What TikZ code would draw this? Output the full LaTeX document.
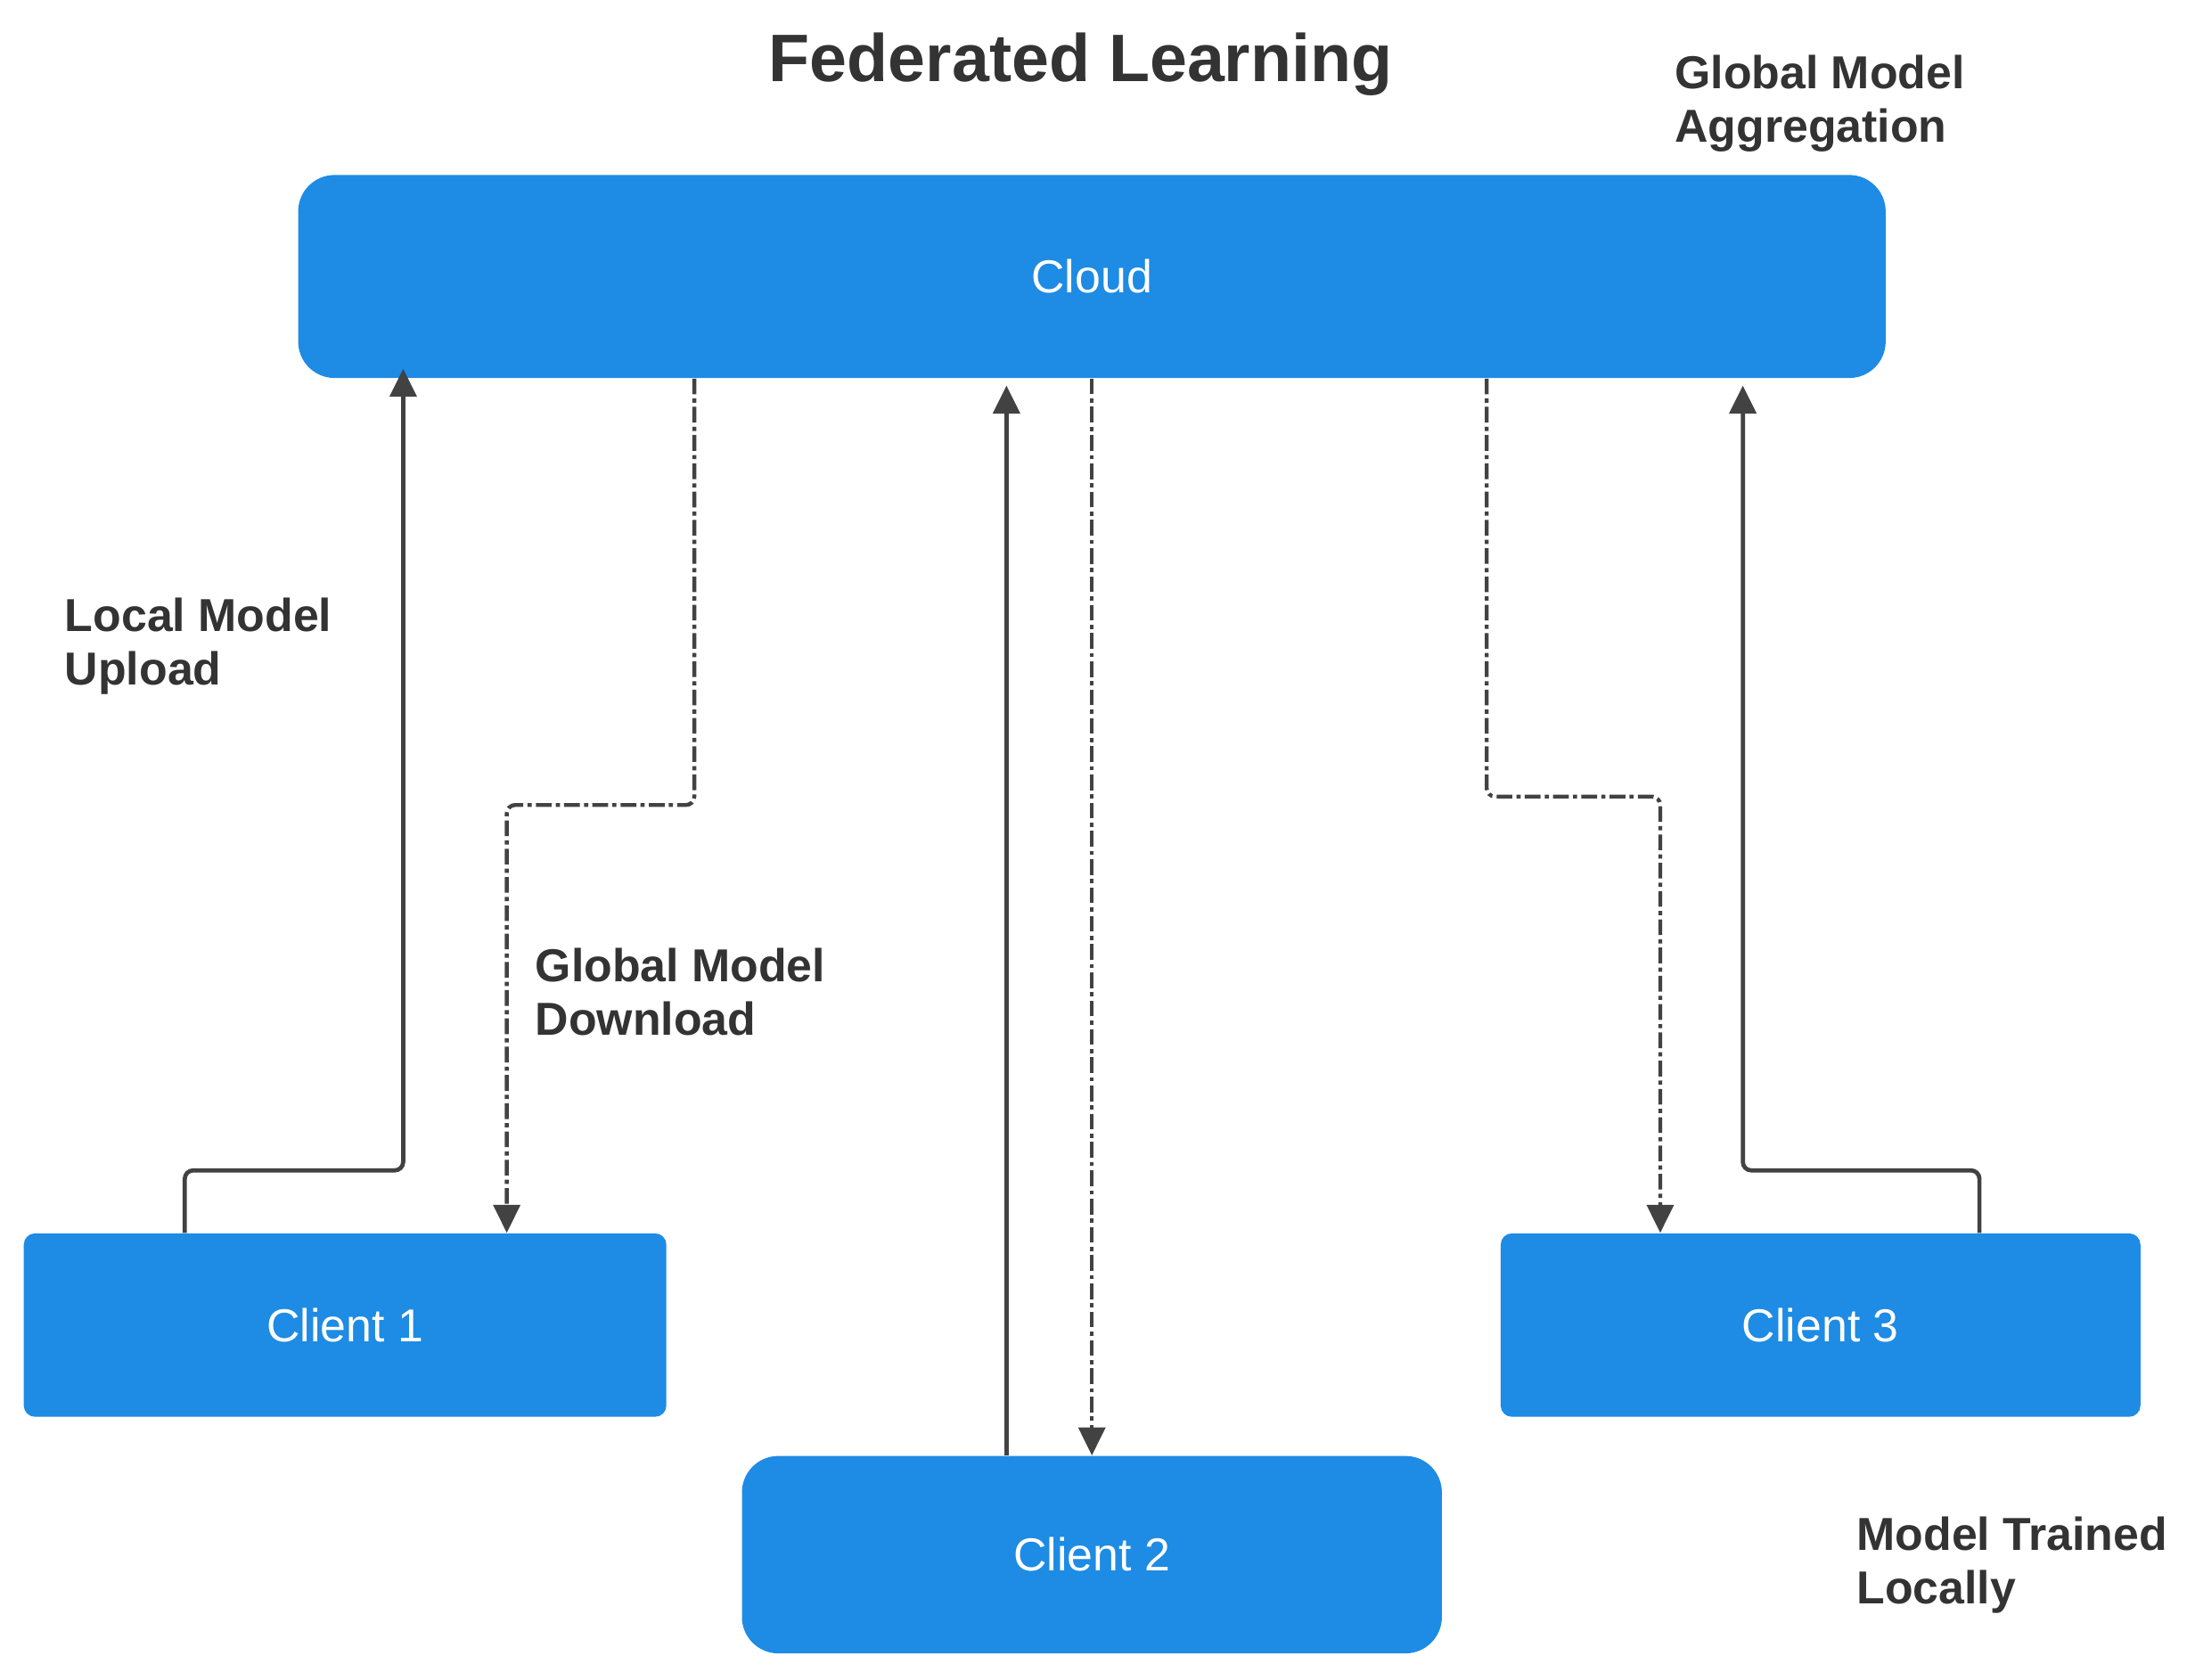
\documentclass[tikz,border=0pt]{standalone}
\usepackage{fontspec}
\setmainfont{Liberation Sans}
\usetikzlibrary{arrows.meta,calc}
\definecolor{boxblue}{RGB}{30,139,228}
\definecolor{linegray}{RGB}{66,66,66}
\definecolor{labelgray}{RGB}{51,51,51}
\tikzset{
  x=0.5pt, y=-0.5pt,
  box/.style={fill=boxblue, draw=none, inner sep=0pt, text=white,
    font=\fontsize{16.5}{19}\selectfont},
  lbl/.style={anchor=north west, inner sep=0pt, align=left, text=labelgray,
    font=\fontsize{16.5}{19}\selectfont\bfseries},
  upl/.style={draw=linegray, line width=1.5pt, rounded corners=3pt,
    -{Triangle[length=10pt,width=9.5pt]}},
  dnl/.style={draw=linegray, line width=1.4pt, rounded corners=3pt,
    dash pattern=on 5.6pt off 1.5pt on 1.5pt off 1.5pt,
    -{Triangle[length=10pt,width=9.5pt]}},
}
\begin{document}
\begin{tikzpicture}
\useasboundingbox (0,0) rectangle (1568,1200);
% title and labels
\node[anchor=base, inner sep=0pt, text=labelgray, font=\fontsize{24}{28}\selectfont\bfseries] (title) at (772,58) {Federated Learning};
\node[lbl] (aggr) at (1196,39) {Global Model\\Aggregation};
\node[lbl] (upload) at (46,427) {Local Model\\Upload};
\node[lbl] (download) at (382,677) {Global Model\\Download};
\node[lbl] (trained) at (1326,1083) {Model Trained\\Locally};
% boxes
\node[box, rounded corners=13pt, minimum width=567pt, minimum height=72.5pt] (cloud) at (780,197.5) {Cloud};
\node[box, rounded corners=4pt, minimum width=229.5pt, minimum height=65.5pt] (c1) at (246.5,946.5) {Client 1};
\node[box, rounded corners=13pt, minimum width=250pt, minimum height=70.5pt] (c2) at (780,1110.5) {Client 2};
\node[box, rounded corners=4pt, minimum width=228.5pt, minimum height=65.5pt] (c3) at (1300.5,946.5) {Client 3};
% connectors
\draw[upl] (132,0 |- c1.north) |- (288,836) -- ($(288,0 |- cloud.south)+(0,-7)$);
\draw[dnl] (496,0 |- cloud.south) |- (362,575) -- (362,0 |- c1.north);
\draw[upl] (719,0 |- c2.north) -- ($(719,0 |- cloud.south)+(0,5)$);
\draw[dnl] (cloud.south) -- (c2.north);
\draw[dnl] (1062,0 |- cloud.south) |- (1186,569) -- (1186,0 |- c3.north);
\draw[upl] (1414,0 |- c3.north) |- (1245,836) -- ($(1245,0 |- cloud.south)+(0,5)$);
\end{tikzpicture}
\end{document}
